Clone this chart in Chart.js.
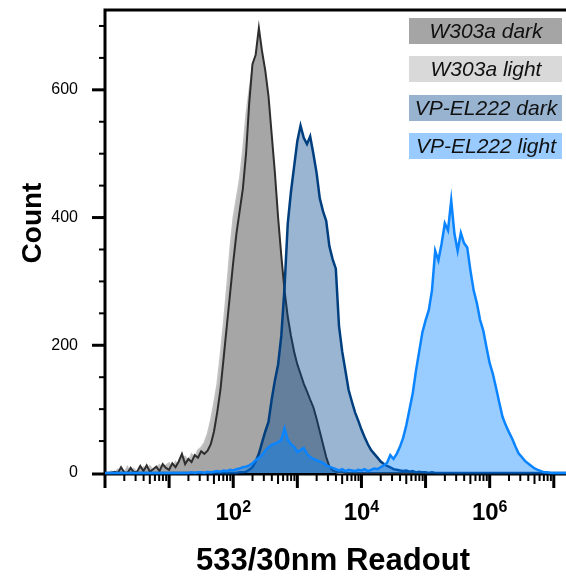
<!DOCTYPE html>
<html>
<head>
<meta charset="utf-8">
<title>533/30nm Readout histogram</title>
<script src="https://cdn.jsdelivr.net/npm/chart.js@4.4.1/dist/chart.umd.min.js"></script>
<style>
  html, body { margin: 0; padding: 0; background: #fff; }
  canvas { display: block; }
</style>
</head>
<body>
<canvas id="hist" width="566" height="580"></canvas>
<script>
/* ---- data: histogram bins (log10 of readout) and counts per sample ---- */
const binExp = [
  0, 0.05, 0.1, 0.15, 0.2, 0.25, 0.3, 0.35, 0.4, 0.45,
  0.5, 0.55, 0.6, 0.65, 0.7, 0.75, 0.8, 0.85, 0.9, 0.95,
  1, 1.05, 1.1, 1.15, 1.2, 1.25, 1.3, 1.35, 1.4, 1.45,
  1.5, 1.55, 1.6, 1.65, 1.7, 1.75, 1.8, 1.85, 1.9, 1.95,
  2, 2.05, 2.1, 2.15, 2.2, 2.25, 2.3, 2.35, 2.4, 2.45,
  2.5, 2.55, 2.6, 2.65, 2.7, 2.75, 2.8, 2.85, 2.9, 2.95,
  3, 3.05, 3.1, 3.15, 3.2, 3.25, 3.3, 3.35, 3.4, 3.45,
  3.5, 3.55, 3.6, 3.65, 3.7, 3.75, 3.8, 3.85, 3.9, 3.95,
  4, 4.05, 4.1, 4.15, 4.2, 4.25, 4.3, 4.35, 4.4, 4.45,
  4.5, 4.55, 4.6, 4.65, 4.7, 4.75, 4.8, 4.85, 4.9, 4.95,
  5, 5.05, 5.1, 5.15, 5.2, 5.25, 5.3, 5.35, 5.4, 5.45,
  5.5, 5.55, 5.6, 5.65, 5.7, 5.75, 5.8, 5.85, 5.9, 5.95,
  6, 6.05, 6.1, 6.15, 6.2, 6.25, 6.3, 6.35, 6.4, 6.45,
  6.5, 6.55, 6.6, 6.65, 6.7, 6.75, 6.8, 6.85, 6.9, 6.95,
  7, 7.05, 7.1, 7.15, 7.2
];

const w303aDark = [
  0, 0, 0, 2, 0, 9, 1, 0, 8, 1,
  2, 11, 3, 12, 2, 6, 10, 3, 14, 8,
  5, 15, 9, 18, 30, 14, 22, 17, 28, 24,
  34, 30, 35, 45, 65, 95, 130, 180, 230, 280,
  330, 375, 410, 445, 500, 580, 640, 655, 697, 660,
  630, 590, 530, 470, 400, 340, 286, 245, 215, 190,
  170, 155, 140, 128, 115, 103, 85, 65, 45, 25,
  10, 4, 2, 1, 1, 0, 0, 0, 0, 0,
  0, 0, 0, 0, 0, 0, 0, 0, 0, 0,
  0, 0, 0, 0, 0, 0, 0, 0, 0, 0,
  0, 0, 0, 0, 0, 0, 0, 0, 0, 0,
  0, 0, 0, 0, 0, 0, 0, 0, 0, 0,
  0, 0, 0, 0, 0, 0, 0, 0, 0, 0,
  0, 0, 0, 0, 0, 0, 0, 0, 0, 0,
  0, 0, 0, 0, 0
];

const w303aLight = [
  0, 0, 3, 0, 6, 0, 1, 10, 0, 7,
  1, 4, 9, 2, 11, 4, 8, 13, 5, 12,
  16, 8, 18, 12, 22, 26, 18, 30, 25, 36,
  40, 48, 62, 83, 110, 140, 185, 235, 290, 350,
  400, 430, 460, 505, 560, 600, 635, 620, 600, 570,
  530, 480, 430, 380, 330, 280, 240, 210, 185, 165,
  150, 135, 120, 108, 95, 82, 65, 48, 32, 18,
  8, 3, 1, 0, 0, 0, 0, 0, 0, 0,
  0, 0, 0, 0, 0, 0, 0, 0, 0, 0,
  0, 0, 0, 0, 0, 0, 0, 0, 0, 0,
  0, 0, 0, 0, 0, 0, 0, 0, 0, 0,
  0, 0, 0, 0, 0, 0, 0, 0, 0, 0,
  0, 0, 0, 0, 0, 0, 0, 0, 0, 0,
  0, 0, 0, 0, 0, 0, 0, 0, 0, 0,
  0, 0, 0, 0, 0
];

const vpEl222Dark = [
  0, 0, 0, 0, 0, 0, 0, 0, 0, 0,
  0, 0, 0, 0, 0, 0, 0, 0, 0, 0,
  0, 0, 0, 0, 0, 0, 0, 0, 0, 0,
  0, 0, 0, 0, 0, 0, 0, 0, 0, 0,
  0, 0, 1, 1, 2, 5, 9, 18, 30, 48,
  65, 80, 115, 145, 170, 215, 290, 390, 440, 480,
  520, 544, 525, 515, 527, 500, 470, 430, 410, 395,
  355, 335, 320, 230, 190, 160, 130, 112, 95, 82,
  68, 56, 45, 36, 30, 24, 18, 14, 11, 9,
  6, 5, 4, 3, 4, 2, 3, 1, 2, 1,
  1, 0, 1, 0, 0, 0, 0, 0, 0, 0,
  0, 0, 0, 0, 0, 0, 0, 0, 0, 0,
  0, 0, 0, 0, 0, 0, 0, 0, 0, 0,
  0, 0, 0, 0, 0, 0, 0, 0, 0, 0,
  0, 0, 0, 0, 0
];

const vpEl222Light = [
  0, 0, 0, 0, 0, 0, 0, 0, 0, 0,
  0, 0, 0, 0, 0, 0, 0, 0, 0, 0,
  0, 0, 0, 0, 0, 0, 0, 1, 0, 1,
  1, 0, 2, 1, 2, 3, 2, 4, 3, 5,
  4, 6, 7, 9, 10, 12, 15, 20, 24, 28,
  35, 40, 44, 46, 48, 52, 70, 52, 45, 41,
  33, 36, 39, 30, 25, 22, 20, 18, 16, 12,
  10, 8, 6, 4, 6, 3, 5, 4, 3, 5,
  4, 6, 3, 5, 7, 6, 9, 12, 16, 28,
  22, 30, 41, 55, 75, 100, 125, 160, 190, 220,
  239, 255, 286, 348, 333, 359, 391, 380, 427, 375,
  348, 376, 360, 353, 317, 286, 266, 240, 223, 197,
  172, 155, 133, 110, 88, 75, 64, 54, 42, 31,
  25, 19, 15, 11, 7, 5, 3, 1, 1, 0,
  0, 0, 0, 0, 0
];

const sampleNames = ['W303a dark', 'W303a light', 'VP-EL222 dark', 'VP-EL222 light'];
const xLabelExps = [2, 4, 6];      // decades that carry a 10^n label
const yLabelStep = 200;            // counts between labelled y ticks
const yMinorStep = 50;

/* ---- look ---- */
const FONT = '"Liberation Sans", Arial, Helvetica, sans-serif';
const X_MIN = 1, X_MAX = 1.55e7, Y_MAX = 725;

const looks = [
  { line: '#2e2e2e', fill: '#a6a6a6',              width: 2,   order: 3, key: '#a5a5a5' },
  { line: '#c2c2c2', fill: 'rgba(0,0,0,0.27)',     width: 1.5, order: 4, key: '#d9d9d9' },
  { line: '#003f7f', fill: 'rgba(0,70,140,0.40)',  width: 2.5, order: 2, key: '#97b3cf' },
  { line: '#0a84ff', fill: 'rgba(0,128,255,0.40)', width: 2.5, order: 1, key: '#99cbff' }
];

const toPoints = counts => binExp.map((e, i) => ({ x: Math.pow(10, e), y: counts[i] }));

const datasets = [w303aDark, w303aLight, vpEl222Dark, vpEl222Light].map((counts, i) => ({
  label: sampleNames[i],
  data: toPoints(counts),
  borderColor: looks[i].line,
  backgroundColor: looks[i].fill,
  borderWidth: looks[i].width,
  order: looks[i].order,
  keyColor: looks[i].key,
  fill: 'origin',
  clip: false
}));

/* ---- axis frame + tick marks, drawn under the data ---- */
const frame = {
  id: 'frame',
  beforeDatasetsDraw(chart) {
    const { ctx, chartArea: a, scales: { x, y } } = chart;
    const y0 = y.getPixelForValue(0) + 1;
    ctx.save();
    ctx.strokeStyle = '#000';
    ctx.lineWidth = 3;
    ctx.beginPath();
    ctx.moveTo(a.left, y0);
    ctx.lineTo(a.left, a.top);
    ctx.lineTo(chart.width + 2, a.top);
    ctx.moveTo(a.left, y0);
    ctx.lineTo(chart.width + 2, y0);
    ctx.stroke();

    // y ticks (left)
    y.ticks.forEach(t => {
      const major = t.value % yLabelStep === 0;
      const py = t.value === 0 ? y0 : y.getPixelForValue(t.value);
      ctx.lineWidth = major ? 3 : 2;
      ctx.beginPath();
      ctx.moveTo(a.left - (major ? 13 : 6), py);
      ctx.lineTo(a.left, py);
      ctx.stroke();
    });

    // x ticks (below), decades long, fives medium
    x.ticks.forEach(t => {
      const v = t.value;
      const dec = Math.pow(10, Math.floor(Math.log10(v) + 1e-9));
      const sig = v / dec;
      if (Math.abs(sig - Math.round(sig)) > 1e-6) return;
      const px = x.getPixelForValue(v);
      if (px > chart.width) return;
      const s = Math.round(sig);
      const len = s === 1 ? 14 : (s === 5 ? 10 : 7);
      ctx.lineWidth = s === 1 ? 3 : 2;
      ctx.beginPath();
      ctx.moveTo(px, y0);
      ctx.lineTo(px, y0 + len);
      ctx.stroke();
    });
    ctx.restore();
  }
};

/* ---- legend boxes, exponent labels and axis titles ---- */
const overlay = {
  id: 'overlay',
  afterDraw(chart) {
    const { ctx, scales: { x } } = chart;
    ctx.save();

    // legend
    ctx.textAlign = 'center';
    ctx.textBaseline = 'alphabetic';
    ctx.font = `italic 21px ${FONT}`;
    chart.data.datasets.forEach((ds, i) => {
      const top = Math.round(18 + i * 38.4);
      ctx.fillStyle = ds.keyColor;
      ctx.fillRect(409, top, 153, 26);
      ctx.fillStyle = '#111';
      ctx.fillText(ds.label, 486, top + 20);
    });

    // 10^n labels
    ctx.fillStyle = '#000';
    ctx.textAlign = 'left';
    xLabelExps.forEach(p => {
      const cx = x.getPixelForValue(Math.pow(10, p));
      ctx.font = `bold 24px ${FONT}`;
      const wb = ctx.measureText('10').width;
      ctx.font = `bold 16px ${FONT}`;
      const we = ctx.measureText(String(p)).width;
      const left = cx - (wb + we) / 2;
      ctx.font = `bold 24px ${FONT}`;
      ctx.fillText('10', left, 520);
      ctx.font = `bold 16px ${FONT}`;
      ctx.fillText(String(p), left + wb, 512);
    });

    // axis titles
    ctx.textAlign = 'center';
    ctx.textBaseline = 'alphabetic';
    ctx.font = `bold 31px ${FONT}`;
    ctx.fillText('533/30nm Readout', 333, 570);
    ctx.translate(41, 223);
    ctx.rotate(-Math.PI / 2);
    ctx.font = `bold 28px ${FONT}`;
    ctx.fillText('Count', 0, 0);
    ctx.restore();
  }
};

new Chart(document.getElementById('hist'), {
  type: 'line',
  data: { datasets },
  options: {
    responsive: false,
    animation: false,
    devicePixelRatio: 1,
    layout: { autoPadding: false, padding: { top: 10, right: 0, bottom: 0, left: 0 } },
    elements: { point: { radius: 0 }, line: { tension: 0 } },
    plugins: { legend: { display: false }, tooltip: { enabled: false } },
    scales: {
      x: {
        type: 'logarithmic',
        min: X_MIN, max: X_MAX,
        grid: { display: false, drawTicks: false },
        border: { display: false },
        ticks: { display: false, autoSkip: false },
        afterFit(s) { s.height = 107; }
      },
      y: {
        min: 0, max: Y_MAX,
        // tick marks are drawn by the frame plugin; the invisible tick length
        // only pushes the labels away from the axis
        grid: { display: false, drawTicks: true, tickLength: 27, tickColor: 'rgba(0,0,0,0)' },
        border: { display: false },
        ticks: {
          stepSize: yMinorStep,
          includeBounds: false,
          autoSkip: false,
          padding: 0,
          color: '#000',
          font: { family: FONT, size: 16 },
          callback: v => (v % yLabelStep === 0 ? String(v) : '')
        },
        afterFit(s) { s.width = 105; }
      }
    }
  },
  plugins: [frame, overlay]
});
</script>
</body>
</html>
